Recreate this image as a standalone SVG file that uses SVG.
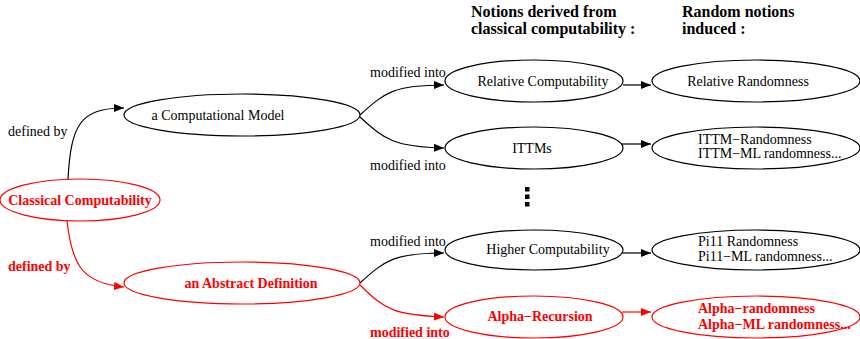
<svg xmlns="http://www.w3.org/2000/svg" width="860" height="339" viewBox="0 0 860 339">
<style>
text{font-family:'Liberation Serif','Noto Serif','DejaVu Serif',serif;font-size:14px;fill:#000}
.b{font-weight:bold}
.h{font-weight:bold;font-size:16px}
.r{fill:#ff0000}
ellipse{fill:#fff;stroke:#000;stroke-width:1.2}
ellipse.r{fill:#fff;stroke:#ff0000}
.e{fill:none;stroke:#000;stroke-width:1.2}
.er{fill:none;stroke:#ff0000;stroke-width:1.2}
</style>
<defs>
<marker id="ak" viewBox="0 0 10 8" refX="10" refY="4" markerWidth="10" markerHeight="8" markerUnits="userSpaceOnUse" orient="auto"><path d="M0,0 L10,4 L0,8 Z" fill="#000"/></marker>
<marker id="ar" viewBox="0 0 10 8" refX="10" refY="4" markerWidth="10" markerHeight="8" markerUnits="userSpaceOnUse" orient="auto"><path d="M0,0 L10,4 L0,8 Z" fill="#ff0000"/></marker>
</defs>
<rect width="860" height="339" fill="#fff"/>
<g id="headers">
<text class="h" x="471" y="17">Notions derived from</text>
<text class="h" x="471" y="34">classical computability :</text>
<text class="h" x="682" y="17">Random notions</text>
<text class="h" x="682" y="34">induced :</text>
</g>
<g id="connectors">
<path class="e" d="M68,179 C71,125 80,108 124,108" marker-end="url(#ak)"/>
<path class="er" d="M67,221 C72,265 82,283 124,287" marker-end="url(#ar)"/>
<path class="e" d="M360,115 C385,92 395,85 444,85" marker-end="url(#ak)"/>
<path class="e" d="M360,117 C385,140 395,147 444,148" marker-end="url(#ak)"/>
<path class="e" d="M360,283 C385,260 395,253 444,253" marker-end="url(#ak)"/>
<path class="er" d="M360,285 C385,310 395,315 444,317" marker-end="url(#ar)"/>
<path class="e" d="M623,85 L651,85" marker-end="url(#ak)"/>
<path class="e" d="M622,144 L651,144" marker-end="url(#ak)"/>
<path class="e" d="M622,253 L651,253" marker-end="url(#ak)"/>
<path class="er" d="M622,312 L651,312" marker-end="url(#ar)"/>
<text x="8" y="136">defined by</text>
<text class="b r" x="8" y="271">defined by</text>
<text x="370" y="77">modified into</text>
<text x="370" y="170">modified into</text>
<text x="370" y="246">modified into</text>
<text class="b r" x="370" y="337">modified into</text>
</g>
<g id="classical">
<ellipse class="r" cx="80" cy="200" rx="80" ry="21"/>
<text class="b r" x="80" y="205" text-anchor="middle">Classical Computability</text>
</g>
<g id="model">
<ellipse cx="242" cy="115" rx="118" ry="21"/>
<text x="218" y="120" text-anchor="middle">a Computational Model</text>
</g>
<g id="abstract">
<ellipse class="r" cx="242" cy="283" rx="118" ry="21"/>
<text class="b r" x="251" y="288" text-anchor="middle">an Abstract Definition</text>
</g>
<g id="relcomp">
<ellipse cx="534" cy="81" rx="89" ry="21"/>
<text x="543" y="86" text-anchor="middle">Relative Computability</text>
</g>
<g id="relrand">
<ellipse cx="756" cy="81" rx="104" ry="21"/>
<text x="748" y="86" text-anchor="middle">Relative Randomness</text>
</g>
<g id="ittms">
<ellipse cx="534" cy="148" rx="89" ry="21"/>
<text x="532" y="153" text-anchor="middle">ITTMs</text>
</g>
<g id="ittmrand">
<ellipse cx="756" cy="148" rx="104" ry="21"/>
<text x="698" y="144">ITTM−Randomness</text>
<text x="698" y="158">ITTM−ML randomness...</text>
</g>
<g id="dots">
<rect x="525" y="187" width="4.5" height="4.5"/>
<rect x="525" y="194.5" width="4.5" height="4.5"/>
<rect x="525" y="202" width="4.5" height="4.5"/>
</g>
<g id="higher">
<ellipse cx="534" cy="250" rx="89" ry="20"/>
<text x="548" y="254" text-anchor="middle">Higher Computability</text>
</g>
<g id="pi11">
<ellipse cx="756" cy="250" rx="104" ry="20"/>
<text x="698" y="246">Pi11 Randomness</text>
<text x="698" y="261">Pi11−ML randomness...</text>
</g>
<g id="alpharec">
<ellipse class="r" cx="534" cy="317" rx="89" ry="21"/>
<text class="b r" x="540" y="321" text-anchor="middle">Alpha−Recursion</text>
</g>
<g id="alpharand">
<ellipse class="r" cx="756" cy="317" rx="104" ry="21"/>
<text class="b r" x="698" y="313">Alpha−randomness</text>
<text class="b r" x="698" y="329">Alpha−ML randomness...</text>
</g>
</svg>
